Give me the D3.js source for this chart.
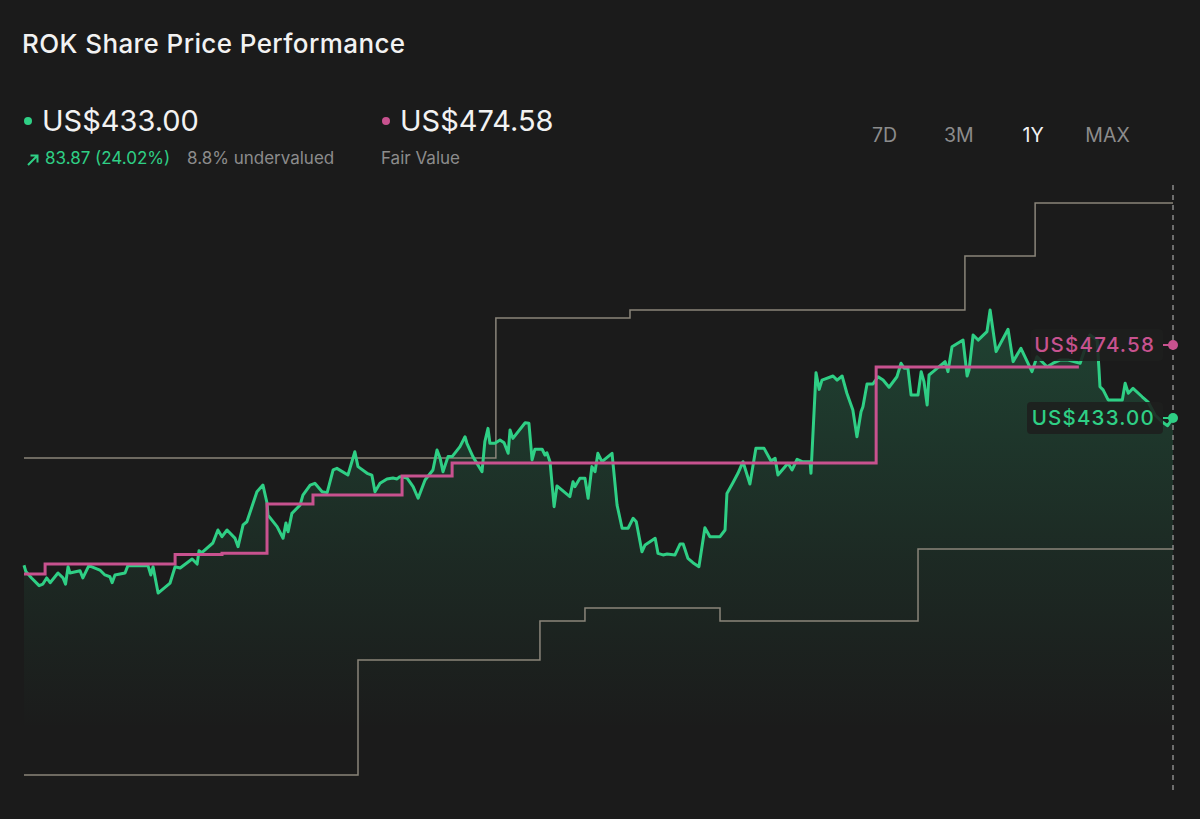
<!DOCTYPE html>
<html>
<head>
  <title>ROK Share Price Performance</title>
  <script src="https://d3js.org/d3.v7.min.js"></script>
  <style>
    body { margin: 0; background: #1b1b1b; }
    svg { display: block; font-family: Inter, "Noto Sans", sans-serif; }
  </style>
</head>
<body>
  <div id="chart"></div>
  <script>
// price history (day of the year, share price US$)
const priceDays = [0,0.6,2.4,4.8,6.0,7.2,8.3,10.8,12.4,13.2,14.0,14.6,17.8,18.7,20.6,24.1,25.7,27.3,28.0,28.9,
  32.1,33.0,36.9,39.4,40.3,41.0,42.6,46.4,48.0,49.6,53.4,55.0,55.6,56.5,60.0,61.6,62.9,64.5,67.0,68.0,
  69.6,70.8,74.0,75.9,77.2,77.5,80.4,82.3,83.2,83.9,85.1,87.7,88.6,90.9,92.4,94.7,96.3,98.2,99.4,102.9,
  105.1,106.1,109.0,110.5,111.5,113.1,115.3,117.2,118.5,119.4,121.7,123.6,125.2,127.4,129.9,131.2,132.2,133.1,134.7,136.0,
  138.5,140.1,140.7,142.6,145.5,146.4,147.4,148.0,149.6,151.2,152.5,153.8,154.4,155.3,159.2,160.4,161.4,162.3,164.6,165.5,
  166.1,167.1,168.4,169.3,173.4,174.4,175.0,176.6,178.2,179.2,180.4,181.4,182.3,183.6,186.8,188.4,190.0,191.9,193.5,194.5,
  196.3,197.3,200.5,201.4,203.0,204.3,206.8,208.4,209.4,210.9,212.5,214.4,216.3,217.9,221.1,222.7,223.3,225.2,226.8,228.4,
  230.6,232.5,235.1,237.3,238.6,239.5,242.7,244.0,245.6,247.2,249.7,250.0,251.6,252.6,253.5,257.0,258.3,259.9,261.4,263.3,
  264.6,265.9,266.5,267.8,269.7,271.3,272.9,274.8,277.3,278.6,279.6,280.8,281.8,284.0,285.0,285.9,286.9,287.5,288.8,292.6,
  293.5,294.8,298.3,299.6,300.2,301.5,303.1,305.9,306.9,308.8,312.6,314.2,316.7,320.2,321.8,325.0,326.9,329.1,331.7,335.5,
  336.7,338.6,340.9,341.5,341.8,342.8,344.4,348.9,349.8,350.8,352.3,355.2,357.1,359.3,361.6,363.3,365];
const prices = [349.1,345.5,341.9,337.5,338.4,341.9,339.2,344.7,341.9,338.4,348.3,344.7,346.0,341.9,348.9,346.4,343.6,342.6,339.2,343.6,
  344.7,348.9,348.9,348.9,343.6,348.3,333.3,339.0,348.3,347.6,352.7,349.8,357.4,356.3,361.8,369.2,365.4,369.2,364.6,359.7,
  372.1,373.9,391.0,394.8,384.6,377.7,371.1,364.5,373.2,368.2,378.7,383.4,389.1,394.8,395.8,391.0,390.5,403.4,404.3,400.5,
  413.8,405.3,401.5,400.5,391.0,395.8,398.3,398.8,398.3,399.6,398.8,393.9,387.3,397.7,403.4,414.8,410.0,402.4,411.0,411.0,
  416.7,422.3,418.6,411.0,402.4,419.5,427.1,418.6,418.6,420.5,418.9,412.9,426.2,421.4,430.3,430.0,409.1,415.2,415.2,411.9,
  413.2,408.1,382.5,394.3,388.2,396.7,393.9,398.7,398.7,387.3,405.3,402.4,412.9,408.1,412.9,383.4,370.2,370.2,375.9,373.9,
  356.8,360.7,364.5,355.9,355.0,355.5,355.0,361.2,361.2,353.1,350.6,348.3,370.5,365.4,365.4,369.2,390.0,396.1,401.5,408.1,
  395.4,415.7,415.7,408.5,410.0,400.5,407.2,403.4,409.5,408.1,408.1,401.5,458.8,449.3,454.6,456.9,454.6,456.9,447.1,437.6,
  422.3,436.6,439.4,452.4,452.4,456.5,454.6,450.5,456.5,464.2,461.3,461.3,446.1,446.1,459.4,453.7,440.4,457.5,459.4,465.1,
  459.4,473.6,477.4,456.9,460.3,480.3,477.4,482.2,494.5,470.8,483.5,465.1,472.7,459.4,467.9,462.2,464.2,466.0,466.0,464.2,
  470.6,480.3,477.4,460.3,450.8,449.0,443.3,443.3,452.8,447.1,449.9,445.1,442.1,434.7,430.7,428.6,433.0];

// fair value estimate (step changes)
const fairDays   = [0, 6.7, 48.0, 62.9, 77.2, 91.8, 120.1, 136.0, 270.7, 335.1];
const fairValues = [344.1, 349.8, 355.3, 356.0, 384.0, 389.1, 400.0, 407.4, 462.0, 462.0];

// analyst high / low targets (step changes)
const highDays   = [0, 149.9, 192.5, 298.9, 321.2, 365];
const highValues = [410.2, 490.0, 494.5, 525.3, 555.5, 555.5];
const lowDays    = [0, 106.1, 163.9, 178.2, 221.1, 284.0, 365];
const lowValues  = [229.7, 295.2, 317.4, 324.8, 317.4, 358.4, 358.4];

const lastPrice = 433.00;
const fairValue = 474.58;
const timeframes = ["7D", "3M", "1Y", "MAX"];
const activeFrame = "1Y";

const W = 1200, H = 819;
const green = "#2fcf85", pink = "#c8528f", grey = "#8c8c8c", stepGrey = "#8a857a";

const svg = d3.select("#chart").append("svg")
  .attr("width", W).attr("height", H);

svg.append("rect").attr("width", W).attr("height", H).attr("fill", "#1b1b1b");

// scales
const x = d3.scaleLinear().domain([0, 365]).range([24, 1173]);
const y = d3.scaleLinear().domain([230, 555]).range([774.4, 203.8]);

// header
svg.append("text").attr("x", 22).attr("y", 53)
  .attr("fill", "#f2f2f2").attr("font-size", 26).attr("font-weight", 500)
  .attr("letter-spacing", 0.4)
  .text("ROK Share Price Performance");

svg.append("circle").attr("cx", 28).attr("cy", 121).attr("r", 4).attr("fill", green);
svg.append("text").attr("x", 42).attr("y", 131)
  .attr("fill", "#f2f2f2").attr("font-size", 29)
  .text("US$" + lastPrice.toFixed(2));

// up arrow
svg.append("path")
  .attr("d", "M28,165 L37,156 M30.5,155.5 L37.5,155.5 L37.5,162.5")
  .attr("fill", "none").attr("stroke", green).attr("stroke-width", 2);
svg.append("text").attr("x", 45).attr("y", 164)
  .attr("fill", green).attr("font-size", 17)
  .text("83.87 (24.02%)");
svg.append("text").attr("x", 187).attr("y", 164)
  .attr("fill", grey).attr("font-size", 17)
  .text("8.8% undervalued");

svg.append("circle").attr("cx", 386).attr("cy", 121).attr("r", 4).attr("fill", pink);
svg.append("text").attr("x", 400).attr("y", 131)
  .attr("fill", "#f2f2f2").attr("font-size", 29)
  .text("US$" + fairValue.toFixed(2));
svg.append("text").attr("x", 381).attr("y", 164)
  .attr("fill", grey).attr("font-size", 17)
  .text("Fair Value");

const tfX = d3.scalePoint().domain(timeframes).range([884.5, 1107.5]);
svg.selectAll(".tf")
  .data(timeframes)
  .enter()
  .append("text")
  .attr("class", "tf")
  .attr("x", d => tfX(d))
  .attr("y", 142)
  .attr("text-anchor", "middle")
  .attr("font-size", 19.5)
  .attr("fill", d => d === activeFrame ? "#f2f2f2" : grey)
  .text(d => d);

// area gradient
const defs = svg.append("defs");
const grad = defs.append("linearGradient").attr("id", "fade")
  .attr("gradientUnits", "userSpaceOnUse")
  .attr("x1", 0).attr("x2", 0).attr("y1", 310).attr("y2", 730);
grad.append("stop").attr("offset", 0).attr("stop-color", green).attr("stop-opacity", 0.22);
grad.append("stop").attr("offset", 0.6).attr("stop-color", green).attr("stop-opacity", 0.08);
grad.append("stop").attr("offset", 1).attr("stop-color", green).attr("stop-opacity", 0);

const priceData = priceDays.map((d, i) => ({ day: d, value: prices[i] }));

svg.append("path")
  .datum(priceData)
  .attr("fill", "url(#fade)")
  .attr("d", d3.area().x(d => x(d.day)).y0(795).y1(d => y(d.value)));

// high / low step lines
function stepLine(days, values, color, width) {
  const data = days.map((d, i) => ({ day: d, value: values[i] }));
  svg.append("path")
    .datum(data)
    .attr("fill", "none")
    .attr("stroke", color)
    .attr("stroke-width", width)
    .attr("d", d3.line().curve(d3.curveStepAfter).x(d => x(d.day)).y(d => y(d.value)));
}
stepLine(highDays, highValues, stepGrey, 1.5);
stepLine(lowDays, lowValues, stepGrey, 1.5);

// price line
svg.append("path")
  .datum(priceData)
  .attr("fill", "none")
  .attr("stroke", green)
  .attr("stroke-width", 3)
  .attr("stroke-linejoin", "round")
  .attr("d", d3.line().x(d => x(d.day)).y(d => y(d.value)));

// fair value line
stepLine(fairDays, fairValues, pink, 3);

// today marker
svg.append("line")
  .attr("x1", x(365)).attr("x2", x(365)).attr("y1", 185).attr("y2", 795)
  .attr("stroke", "#8a8a8a").attr("stroke-width", 1.5).attr("stroke-dasharray", "5,5");

// end labels
function endLabel(value, color, boxLeft) {
  const cy = y(value);
  svg.append("rect")
    .attr("x", boxLeft).attr("y", cy - 16).attr("width", 1163 - boxLeft).attr("height", 32)
    .attr("rx", 4).attr("fill", "#1e1f1e").attr("fill-opacity", 0.88);
  svg.append("text")
    .attr("x", 1155).attr("y", cy + 7)
    .attr("text-anchor", "end")
    .attr("font-size", 20.5).attr("font-weight", 500)
    .attr("letter-spacing", 1.2)
    .attr("fill", color)
    .text("US$" + value.toFixed(2));
  svg.append("line")
    .attr("x1", 1163).attr("x2", x(365)).attr("y1", cy).attr("y2", cy)
    .attr("stroke", color).attr("stroke-width", 2);
  svg.append("circle").attr("cx", x(365)).attr("cy", cy).attr("r", 5).attr("fill", color);
}
endLabel(fairValue, pink, 1031);
endLabel(lastPrice, green, 1027);
  </script>
</body>
</html>
